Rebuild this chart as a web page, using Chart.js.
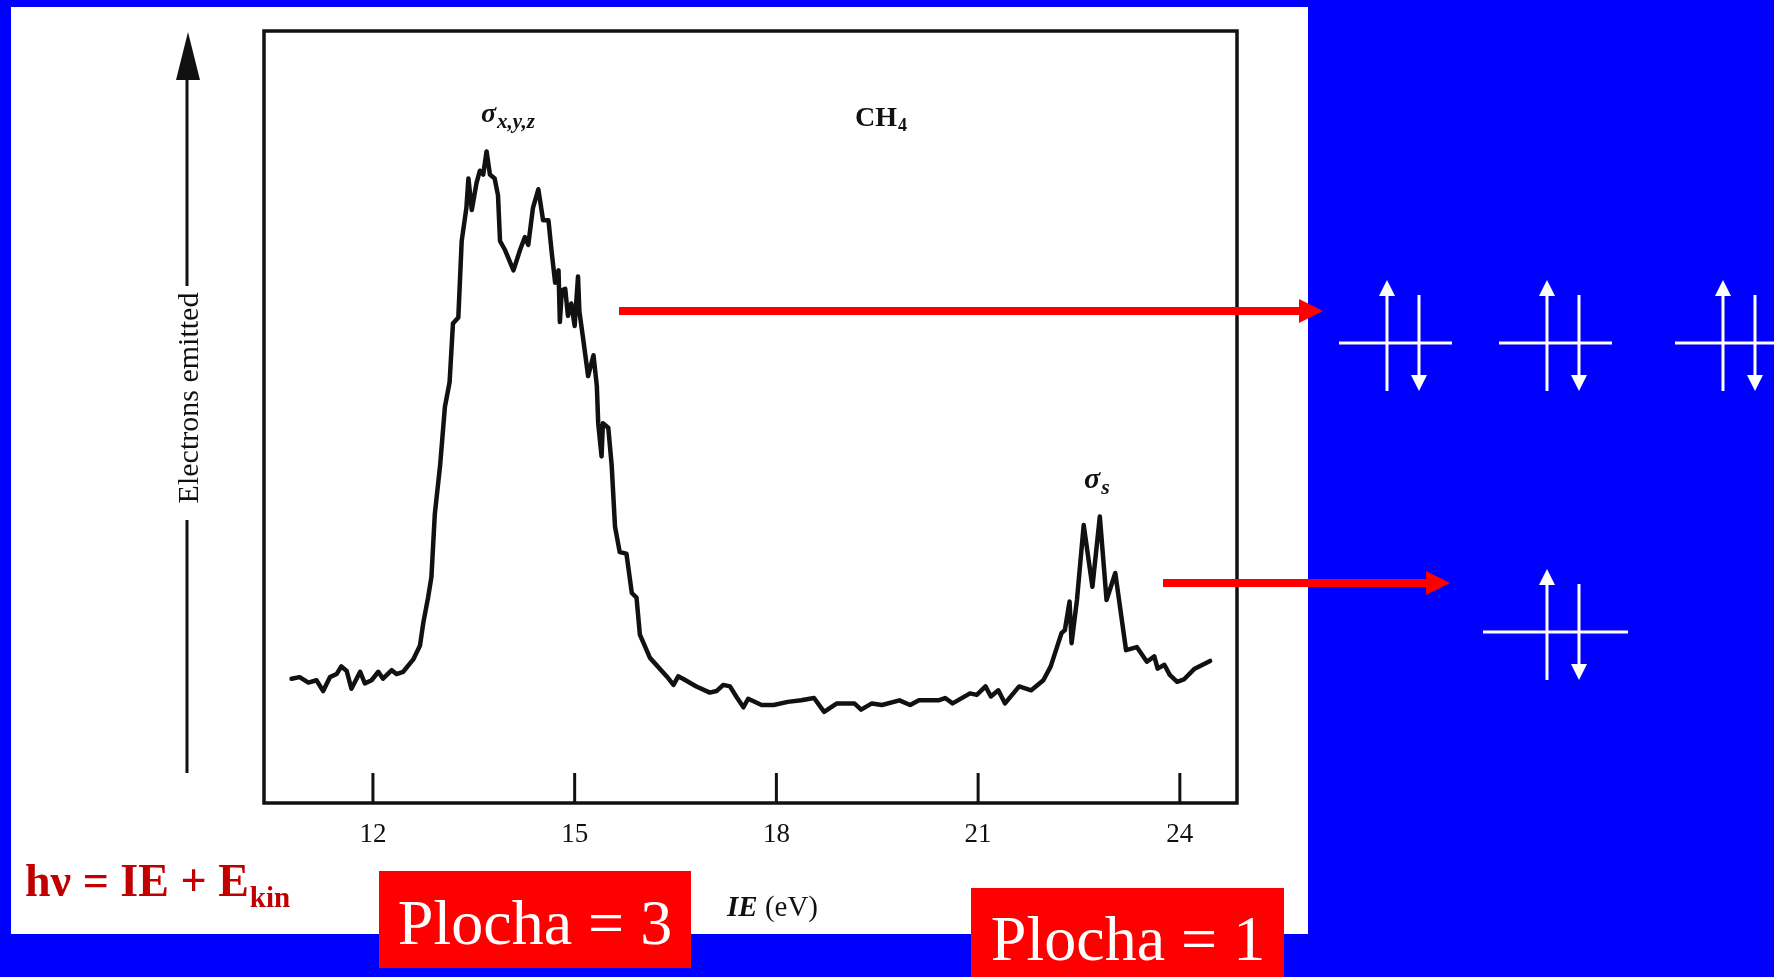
<!DOCTYPE html>
<html>
<head>
<meta charset="utf-8">
<title>CH4 photoelectron spectrum</title>
<script src="https://cdn.jsdelivr.net/npm/chart.js@4.4.1/dist/chart.umd.min.js"></script>
<style>
    html, body { margin: 0; padding: 0; background: #0000ff; overflow: hidden; }
    #chart { display: block; }
</style>
</head>
<body>
<canvas id="chart" width="1774" height="977"></canvas>
<script>
// Ionisation energy (eV)
const energies = [
    10.79, 10.91, 11.04, 11.16, 11.26, 11.36, 11.46, 11.53, 11.61, 11.68,
    11.81, 11.88, 11.98, 12.08, 12.15, 12.28, 12.35, 12.45, 12.60, 12.70,
    12.75, 12.82, 12.87, 12.92, 13.00, 13.07, 13.14, 13.19, 13.27, 13.32,
    13.39, 13.42, 13.47, 13.54, 13.59, 13.64, 13.69, 13.74, 13.81, 13.86,
    13.89, 13.96, 14.09, 14.19, 14.26, 14.31, 14.38, 14.46, 14.53, 14.61,
    14.66, 14.71, 14.76, 14.78, 14.81, 14.86, 14.90, 14.95, 15.00, 15.05,
    15.07, 15.13, 15.20, 15.28, 15.33, 15.35, 15.40, 15.42, 15.50, 15.55,
    15.60, 15.67, 15.77, 15.85, 15.92, 15.97, 16.12, 16.37, 16.47, 16.54,
    16.61, 16.81, 17.01, 17.11, 17.21, 17.31, 17.41, 17.51, 17.58, 17.78,
    17.96, 18.17, 18.37, 18.56, 18.71, 18.90, 19.16, 19.26, 19.42, 19.57,
    19.83, 19.99, 20.12, 20.41, 20.51, 20.62, 20.88, 20.98, 21.11, 21.19,
    21.30, 21.40, 21.61, 21.79, 21.97, 22.08, 22.24, 22.29, 22.36, 22.39,
    22.47, 22.57, 22.70, 22.81, 22.91, 23.04, 23.20, 23.36, 23.51, 23.62,
    23.67, 23.77, 23.85, 23.96, 24.06, 24.22, 24.45
];

// Electrons emitted (arbitrary units, 0..100 of the frame height)
const electrons = [
    16.1, 16.3, 15.6, 15.9, 14.5, 16.3, 16.7, 17.7, 17.1, 14.8,
    17.0, 15.5, 15.9, 17.0, 16.1, 17.2, 16.7, 17.0, 18.6, 20.4,
    23.4, 26.6, 29.3, 37.4, 43.8, 51.3, 54.5, 62.1, 62.9, 72.8,
    77.1, 80.9, 76.8, 80.3, 81.9, 81.4, 84.4, 81.4, 80.9, 78.7,
    72.8, 71.7, 69.0, 71.7, 73.3, 72.3, 77.1, 79.5, 75.5, 75.5,
    71.2, 67.4, 69.0, 62.3, 66.4, 66.6, 63.1, 64.7, 61.8, 68.2,
    63.7, 59.9, 55.3, 58.0, 54.0, 49.2, 44.9, 49.2, 48.6, 43.8,
    35.8, 32.5, 32.3, 27.2, 26.6, 21.8, 18.8, 16.4, 15.3, 16.4,
    16.1, 15.1, 14.3, 14.5, 15.3, 15.1, 13.7, 12.4, 13.5, 12.7,
    12.7, 13.1, 13.3, 13.6, 11.8, 12.9, 12.9, 12.1, 12.9, 12.7,
    13.3, 12.7, 13.3, 13.3, 13.6, 12.9, 14.2, 14.0, 15.1, 13.8,
    14.6, 12.9, 15.1, 14.6, 15.9, 17.7, 22.0, 22.4, 26.1, 20.7,
    26.3, 36.0, 28.0, 37.1, 26.3, 29.8, 19.8, 20.2, 18.3, 19.0,
    17.4, 17.9, 16.6, 15.7, 16.0, 17.4, 18.4
];

const xTicks = [12, 15, 18, 21, 24];
const xTickLabels = ['12', '15', '18', '21', '24'];

const SERIF = '"Liberation Serif", "DejaVu Serif", serif';

// slide background: blue page with white figure panel
const backgroundPlugin = {
    id: 'background',
    beforeDraw(chart) {
        const ctx = chart.ctx;
        ctx.save();
        ctx.fillStyle = '#0000ff';
        ctx.fillRect(0, 0, chart.width, chart.height);
        ctx.fillStyle = '#ffffff';
        ctx.fillRect(11, 7, 1297, 927);
        ctx.restore();
    }
};

function arrowLine(ctx, x1, y, x2, headLen, headHalf, width, color) {
    ctx.fillStyle = color;
    ctx.fillRect(x1, y - width / 2, x2 - x1 - headLen + 1, width);
    ctx.beginPath();
    ctx.moveTo(x2 - headLen, y - headHalf);
    ctx.lineTo(x2, y);
    ctx.lineTo(x2 - headLen, y + headHalf);
    ctx.closePath();
    ctx.fill();
}

// one orbital level with an up and a down electron
function spinPair(ctx, x1, x2, y, upX, downX) {
    ctx.strokeStyle = '#ffffff';
    ctx.fillStyle = '#ffffff';
    ctx.lineWidth = 3;
    ctx.beginPath();
    ctx.moveTo(x1, y); ctx.lineTo(x2, y);
    ctx.moveTo(upX, y + 48); ctx.lineTo(upX, y - 48);
    ctx.moveTo(downX, y - 48); ctx.lineTo(downX, y + 32);
    ctx.stroke();
    ctx.beginPath();
    ctx.moveTo(upX, y - 63); ctx.lineTo(upX - 8, y - 47); ctx.lineTo(upX + 8, y - 47);
    ctx.closePath(); ctx.fill();
    ctx.beginPath();
    ctx.moveTo(downX, y + 48); ctx.lineTo(downX - 8, y + 32); ctx.lineTo(downX + 8, y + 32);
    ctx.closePath(); ctx.fill();
}

function textWithSub(ctx, x, y, main, mainFont, sub, subFont, drop) {
    ctx.font = mainFont;
    ctx.fillText(main, x, y);
    const w = ctx.measureText(main).width;
    ctx.font = subFont;
    ctx.fillText(sub, x + w + 1, y + drop);
}

const framePlugin = {
    id: 'frame',
    afterDatasetsDraw(chart) {
        const ctx = chart.ctx;
        const area = chart.chartArea;
        const xs = chart.scales.x;
        ctx.save();

        // box around the plot
        ctx.strokeStyle = '#111111';
        ctx.lineWidth = 3.5;
        ctx.strokeRect(area.left, area.top, area.right - area.left, area.bottom - area.top);

        // inward ticks and their labels
        ctx.lineWidth = 3;
        ctx.fillStyle = '#111111';
        ctx.font = '27px ' + SERIF;
        ctx.textAlign = 'center';
        ctx.textBaseline = 'alphabetic';
        xTicks.forEach((t, i) => {
            const px = xs.getPixelForValue(t);
            ctx.beginPath();
            ctx.moveTo(px, area.bottom);
            ctx.lineTo(px, area.bottom - 30);
            ctx.stroke();
            ctx.fillText(xTickLabels[i], px, 842);
        });

        // x axis title
        ctx.textAlign = 'left';
        ctx.font = 'italic bold 29px ' + SERIF;
        ctx.fillText('IE', 727, 916);
        const ieW = ctx.measureText('IE').width;
        ctx.font = '29px ' + SERIF;
        ctx.fillText(' (eV)', 727 + ieW, 916);

        // y axis arrow with rotated title
        ctx.lineWidth = 3;
        ctx.beginPath();
        ctx.moveTo(187, 76); ctx.lineTo(187, 286);
        ctx.moveTo(187, 520); ctx.lineTo(187, 773);
        ctx.stroke();
        ctx.beginPath();
        ctx.moveTo(188, 32); ctx.lineTo(176, 80); ctx.lineTo(200, 80);
        ctx.closePath(); ctx.fill();
        ctx.save();
        ctx.translate(198, 398);
        ctx.rotate(-Math.PI / 2);
        ctx.textAlign = 'center';
        ctx.font = '30px ' + SERIF;
        ctx.fillText('Electrons emitted', 0, 0);
        ctx.restore();

        // peak labels
        ctx.textAlign = 'left';
        textWithSub(ctx, 481, 122, '\u03c3', 'italic bold 28px ' + SERIF, 'x,y,z', 'italic bold 21px ' + SERIF, 6);
        textWithSub(ctx, 1084, 488, '\u03c3', 'italic bold 30px ' + SERIF, 's', 'italic bold 22px ' + SERIF, 6);
        textWithSub(ctx, 855, 126, 'CH', 'bold 28px ' + SERIF, '4', 'bold 18px ' + SERIF, 5);

        ctx.restore();
    },
    afterDraw(chart) {
        const ctx = chart.ctx;
        ctx.save();

        // red arrows from the bands to the orbitals
        arrowLine(ctx, 619, 311, 1323, 24, 12, 8, '#ff0000');
        arrowLine(ctx, 1163, 583, 1450, 24, 12, 8, '#ff0000');

        // occupied orbitals
        spinPair(ctx, 1339, 1452, 343, 1387, 1419);
        spinPair(ctx, 1499, 1612, 343, 1547, 1579);
        spinPair(ctx, 1675, 1788, 343, 1723, 1755);
        spinPair(ctx, 1483, 1628, 632, 1547, 1579);

        // energy balance
        ctx.fillStyle = '#c00000';
        ctx.textAlign = 'left';
        textWithSub(ctx, 25, 896, 'h\u03bd = IE + E', 'bold 46px ' + SERIF, 'kin', 'bold 29px ' + SERIF, 11);

        // area boxes
        ctx.fillStyle = '#ff0000';
        ctx.fillRect(379, 871, 312, 97);
        ctx.fillRect(971, 888, 313, 89);
        ctx.fillStyle = '#ffffff';
        ctx.font = '64px ' + SERIF;
        ctx.textAlign = 'center';
        ctx.fillText('Plocha = 3', 535, 944);
        ctx.fillText('Plocha = 1', 1128, 960);

        ctx.restore();
    }
};

const points = energies.map((e, i) => ({ x: e, y: electrons[i] }));

new Chart(document.getElementById('chart'), {
    type: 'line',
    data: {
        datasets: [{
            data: points,
            borderColor: '#111111',
            borderWidth: 4.5,
            borderJoinStyle: 'round',
            borderCapStyle: 'round',
            pointRadius: 0,
            tension: 0,
            fill: false
        }]
    },
    options: {
        responsive: false,
        animation: false,
        devicePixelRatio: 1,
        layout: { padding: { left: 264, top: 31, right: 537, bottom: 174 } },
        plugins: { legend: { display: false }, tooltip: { enabled: false } },
        scales: {
            x: { type: 'linear', min: 10.38, max: 24.85, display: false },
            y: { type: 'linear', min: 0, max: 100, display: false }
        }
    },
    plugins: [backgroundPlugin, framePlugin]
});
</script>
</body>
</html>
